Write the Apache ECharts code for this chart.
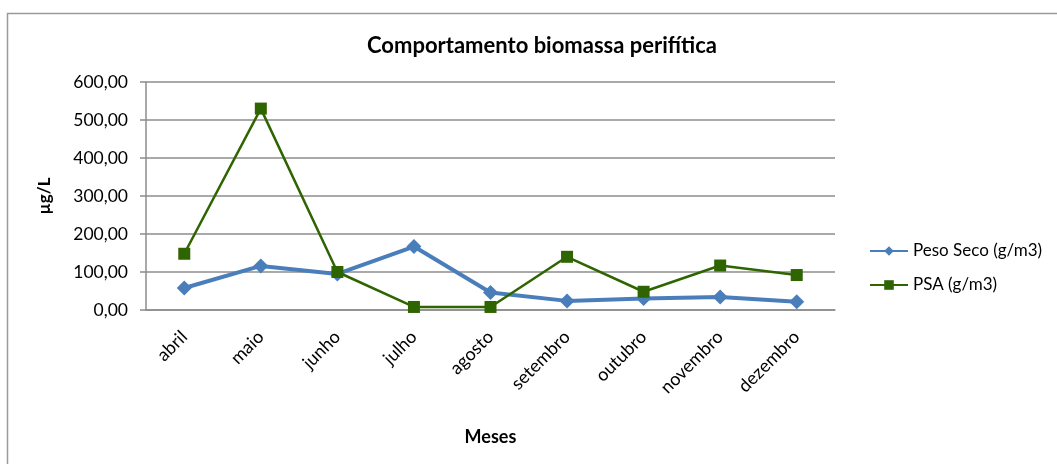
<!DOCTYPE html>
<html>
<head>
<meta charset="utf-8">
<script src="https://cdn.jsdelivr.net/npm/echarts@6/dist/echarts.min.js"></script>
<style>
  html, body { margin: 0; padding: 0; background: #fff; }
  #chart { width: 1057px; height: 464px; }
</style>
</head>
<body>
<div id="chart"></div>
<script>
// Monthly periphyton biomass
const meses = ['abril', 'maio', 'junho', 'julho', 'agosto', 'setembro', 'outubro', 'novembro', 'dezembro'];
const pesoSeco = [58, 116, 95, 167, 46, 24, 30, 34, 22];
const psa = [148, 530, 100, 8, 8, 140, 48, 117, 92];
const yTicks = { min: 0, max: 600, interval: 100 };

const fontFamily = 'Lato, "Open Sans", sans-serif';
const fmt = v => v.toFixed(2).replace('.', ',');

const chart = echarts.init(document.getElementById('chart'), null, { renderer: 'canvas' });
chart.setOption({
  animation: false,
  backgroundColor: '#ffffff',
  textStyle: { fontFamily },
  graphic: [{
    type: 'rect',
    shape: { x: 7.5, y: 13.5, width: 1100, height: 500 },
    style: { fill: 'none', stroke: '#9a9a9a', lineWidth: 1.5 },
    silent: true
  }],
  title: {
    text: 'Comportamento biomassa perifítica',
    left: 537, top: 30, textAlign: 'center',
    textStyle: { fontFamily, fontSize: 22, fontWeight: 'bold', color: '#000' }
  },
  legend: {
    orient: 'vertical',
    left: 864, top: 236,
    itemWidth: 38, itemHeight: 12,
    itemGap: 14,
    textStyle: { fontFamily, fontSize: 17, lineHeight: 20, color: '#000' },
    data: ['Peso Seco (g/m3)', 'PSA (g/m3)']
  },
  grid: { left: 146, right: 222, top: 82, bottom: 154, containLabel: false },
  xAxis: {
    type: 'category',
    data: meses,
    boundaryGap: true,
    name: 'Meses',
    nameLocation: 'middle',
    nameGap: 118,
    nameMoveOverlap: false,
    nameTextStyle: { fontFamily, fontSize: 18, fontWeight: 'bold', color: '#000' },
    axisLine: { lineStyle: { color: '#8c8c8c', width: 1.5 } },
    axisTick: { show: false },
    axisLabel: { rotate: 45, margin: 24, fontFamily, fontSize: 18, color: '#000' }
  },
  yAxis: {
    type: 'value',
    min: yTicks.min, max: yTicks.max, interval: yTicks.interval,
    name: 'µg/L',
    nameLocation: 'middle',
    nameGap: 93,
    nameRotate: 90,
    nameTextStyle: { fontFamily, fontSize: 17, fontWeight: 'bold', color: '#000' },
    axisLine: { show: true, lineStyle: { color: '#8c8c8c', width: 1.5 } },
    axisTick: { show: true, inside: false, length: 6, lineStyle: { color: '#8c8c8c', width: 1.5 } },
    axisLabel: { margin: 18, fontFamily, fontSize: 17.5, color: '#000', formatter: fmt },
    splitLine: { lineStyle: { color: '#8c8c8c', width: 1.5 } }
  },
  series: [
    {
      name: 'Peso Seco (g/m3)',
      type: 'line',
      data: pesoSeco,
      symbol: 'diamond',
      symbolSize: 15,
      itemStyle: { color: '#4a7ebb' },
      lineStyle: { color: '#4a7ebb', width: 4 },
      z: 2
    },
    {
      name: 'PSA (g/m3)',
      type: 'line',
      data: psa,
      symbol: 'rect',
      symbolSize: 12,
      itemStyle: { color: '#2f6500' },
      lineStyle: { color: '#2f6500', width: 2.5 },
      z: 3
    }
  ]
});
</script>
</body>
</html>
